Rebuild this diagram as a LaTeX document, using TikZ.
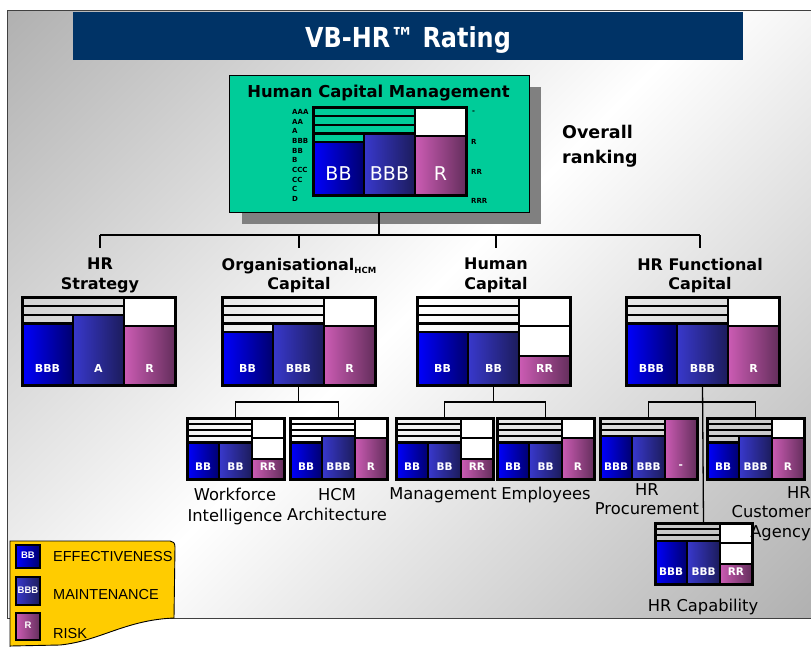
\documentclass[tikz,border=0pt]{standalone}
\usepackage{fontspec}
\setmainfont{DejaVu Sans}
\newfontfamily\headfont[FakeStretch=0.87]{DejaVu Sans}
\newfontfamily\legendfont{Liberation Sans}
\usetikzlibrary{calc}

\definecolor{panelgray}{HTML}{ADADAD}
\definecolor{titlenavy}{HTML}{003366}
\definecolor{hcmteal}{HTML}{00CC99}
\definecolor{shadowgray}{HTML}{808080}
\definecolor{legendyellow}{HTML}{FFCC00}
\definecolor{effL}{HTML}{0000FF}
\definecolor{effR}{HTML}{00006E}
\definecolor{mntL}{HTML}{3838CC}
\definecolor{mntR}{HTML}{1C1C5C}
\definecolor{rskL}{HTML}{CC5CB4}
\definecolor{rskR}{HTML}{642E5C}

\tikzset{
  cell/.style={draw=black, line width=2.2pt},
  stripe/.style={draw=black, line width=2.2pt},
  effbar/.style={cell, left color=effL, right color=effR},
  mntbar/.style={cell, left color=mntL, right color=mntR},
  rskbar/.style={cell, left color=rskL, right color=rskR},
  chartframe/.style={draw=black, line width=3pt, inner sep=0pt, outer sep=0pt},
  barlabel/.style={text=white, inner sep=0pt},
  link/.style={draw=black, line width=1.3pt},
  groupname/.style={font=\bfseries\fontsize{16}{19.5}\selectfont, align=center,
    anchor=north, inner sep=0pt, outer xsep=0pt, outer ysep=10pt},
  unitname/.style={font=\fontsize{16.3}{20.5}\selectfont, align=center,
    anchor=north, inner sep=0pt},
  scalemark/.style={font=\bfseries\fontsize{7}{7}\selectfont, anchor=west, inner sep=0pt},
  legendtext/.style={font=\legendfont\fontsize{14.5}{15}\selectfont, anchor=west, inner sep=0pt},
  legendbox/.style={draw=black, line width=1.2pt},
  legendmark/.style={text=white, inner sep=0pt, font=\legendfont\bfseries\fontsize{9.5}{10}\selectfont},
}

% Rating chart: name, x, y (top left), width, height,
% effectiveness level, maintenance level (1 = AAA ... 10 = D), risk level (0 = -, 1 = R, 2 = RR)
\newcommand\ratingchart[8]{%
  \pgfmathsetmacro\chX{#2}%
  \pgfmathsetmacro\chY{#3}%
  \pgfmathsetmacro\chW{#4}%
  \pgfmathsetmacro\chH{#5}%
  \pgfmathsetmacro\chA{\chX+\chW/3}%
  \pgfmathsetmacro\chB{\chX+2*\chW/3}%
  \pgfmathsetmacro\chR{\chX+\chW}%
  \pgfmathsetmacro\chBot{\chY+\chH}%
  \pgfmathtruncatemacro\chN{max(#6,#7)-2}%
  \foreach \k in {1,...,\chN}{\draw[stripe] (\chX,{\chY+\k*\chH/10}) -- (\chB,{\chY+\k*\chH/10});}%
  \ifnum#8>0
    \foreach \r in {1,...,#8}{\draw[cell,fill=white] (\chB,{\chY+(\r-1)*\chH/3}) rectangle (\chR,{\chY+\r*\chH/3});}%
  \fi
  \draw[effbar] (\chX,{\chY+(#6-1)*\chH/10}) rectangle (\chA,\chBot);
  \draw[mntbar] (\chA,{\chY+(#7-1)*\chH/10}) rectangle (\chB,\chBot);
  \draw[rskbar] (\chB,{\chY+#8*\chH/3}) rectangle (\chR,\chBot);
  \node[chartframe,minimum width=\chW pt,minimum height=\chH pt,anchor=north west] (#1) at (\chX,\chY) {};
}

% Ratings printed in the three columns of the last chart drawn
\newcommand\chartlabels[6]{%
  \node[barlabel,font=#6] (#1-e) at ({(\chX+\chA)/2},{\chBot-#5}) {#2};
  \node[barlabel,font=#6] (#1-m) at ({(\chA+\chB)/2},{\chBot-#5}) {#3};
  \node[barlabel,font=#6] (#1-r) at ({(\chB+\chR)/2},{\chBot-#5}) {#4};
}

\newcommand\bigmark{\fontsize{19}{19}\selectfont}
\newcommand\midmark{\bfseries\fontsize{11}{11}\selectfont}
\newcommand\smallmark{\bfseries\fontsize{10.5}{10.5}\selectfont}

\begin{document}
\begin{tikzpicture}[x=1pt,y=-1pt]
\useasboundingbox (0,0) rectangle (811,646);
\fill[white] (0,0) rectangle (811,646);

% background panel: diagonal grey - white - grey gradient
\begin{scope}
  \clip (7,10) rectangle (840,618);
  \shade[top color=panelgray, bottom color=panelgray, middle color=white,
    transform canvas={rotate around={45:(409,314)}}]
    (-111,-206) rectangle (929,834);
\end{scope}
\draw[draw=black!75, line width=1pt] (7,10) rectangle (840,618);

% title bar
\fill[titlenavy] (73,12) rectangle (743,60);
\node[text=white, font=\headfont\bfseries\fontsize{27.5}{30}\selectfont, anchor=base, inner sep=0pt]
  (title) at (408,47) {VB-HR™ Rating};

% overall box
\fill[shadowgray] (242,87) rectangle (541,224);
\node[draw=black, line width=1pt, fill=hcmteal, minimum width=300pt, minimum height=137pt,
  anchor=north west, inner sep=0pt, outer sep=0pt] (hcm) at (229,75) {};
\node[font=\bfseries\fontsize{16.4}{18}\selectfont, anchor=base, inner sep=0pt]
  (hcm-t) at (378.5,97) {Human Capital Management};

\ratingchart{mc}{313}{107}{153}{88}{5}{4}{1}
\chartlabels{mc}{BB}{BBB}{R}{21}{\bigmark}

\foreach \s [count=\i from 0] in {AAA,AA,A,BBB,BB,B,CCC,CC,C,D}
  \node[scalemark] (sc-\i) at (292,{112+\i*9.67}) {\s};
\node[scalemark] (rk-0) at (472,112) {-};
\node[scalemark] (rk-1) at (471,142) {R};
\node[scalemark] (rk-2) at (471,172) {RR};
\node[scalemark] (rk-3) at (471,201) {RRR};

\node[font=\bfseries\fontsize{17.5}{25}\selectfont, align=left, anchor=north west, inner sep=0pt]
  (overall) at (562,125) {Overall\\ranking};

% second level
\node[groupname] (hs-t) at (100,248) {HR\\Strategy};
\node[groupname] (oc-t) at (299,248) {Organisational\raisebox{-3pt}{\fontsize{8.5}{9}\selectfont HCM}\\Capital};
\node[groupname] (hc-t) at (496,248) {Human\\Capital};
\node[groupname] (hf-t) at (700,248) {HR Functional\\Capital};

\coordinate (bus2) at (0,235);
\draw[link] (hs-t.north |- bus2) -- (hf-t.north |- bus2);
\draw[link] (hcm.south) -- (hcm.south |- bus2);
\foreach \g in {hs,oc,hc,hf}
  \draw[link] (\g-t.north |- bus2) -- (\g-t.north);

\ratingchart{hs}{22}{297}{153}{88}{4}{3}{1}
\chartlabels{hs}{BBB}{A}{R}{17}{\midmark}
\ratingchart{oc}{222}{297}{153}{88}{5}{4}{1}
\chartlabels{oc}{BB}{BBB}{R}{17}{\midmark}
\ratingchart{hc}{417}{297}{153}{88}{5}{5}{2}
\chartlabels{hc}{BB}{BB}{RR}{17}{\midmark}
\ratingchart{hf}{626}{297}{153}{88}{4}{4}{1}
\chartlabels{hf}{BBB}{BBB}{R}{17}{\midmark}

% third level
\ratingchart{wi}{187}{418}{97}{61}{5}{5}{2}
\chartlabels{wi}{BB}{BB}{RR}{12}{\smallmark}
\ratingchart{ha}{290}{418}{97}{61}{5}{4}{1}
\chartlabels{ha}{BB}{BBB}{R}{12}{\smallmark}
\ratingchart{mg}{396}{418}{97}{61}{5}{5}{2}
\chartlabels{mg}{BB}{BB}{RR}{12}{\smallmark}
\ratingchart{em}{497}{418}{97}{61}{5}{5}{1}
\chartlabels{em}{BB}{BB}{R}{12}{\smallmark}
\ratingchart{pr}{600}{418}{97}{61}{4}{4}{0}
\chartlabels{pr}{BBB}{BBB}{-}{12}{\smallmark}
\ratingchart{ag}{707}{418}{97}{61}{5}{4}{1}
\chartlabels{ag}{BB}{BBB}{R}{12}{\smallmark}
\ratingchart{cap}{655}{523}{97}{61}{4}{4}{2}
\chartlabels{cap}{BBB}{BBB}{RR}{12}{\smallmark}

\coordinate (bus3) at (0,402);
\draw[link] (oc.south) -- (oc.south |- bus3);
\draw[link] (wi.north) -- (wi.north |- bus3) -- (ha.north |- bus3) -- (ha.north);
\draw[link] (hc.south) -- (hc.south |- bus3);
\draw[link] (mg.north) -- (mg.north |- bus3) -- (em.north |- bus3) -- (em.north);
\draw[link] (hf.south) -- (cap.north);
\draw[link] (pr.north) -- (pr.north |- bus3) -- (ag.north |- bus3) -- (ag.north);

\node[unitname] (wi-t) at (235,488) {Workforce\\Intelligence};
\node[unitname] (ha-t) at (337,488) {HCM\\Architecture};
\node[unitname] (mg-t) at (443,487) {Management};
\node[unitname] (em-t) at (546,487) {Employees};
\node[unitname, font=\fontsize{16.3}{19.5}\selectfont] (pr-t) at (647,483) {HR\\Procurement};
\node[unitname, align=right, anchor=north east, font=\fontsize{16.3}{19.8}\selectfont]
  (ag-t) at (811,486) {HR\\Customer\\Agency};
\node[unitname] (cap-t) at (703,599) {HR Capability};

% legend
\filldraw[fill=legendyellow, draw=black, line width=0.9pt]
  (10,647) -- (10,541) -- (170,541) .. controls (173,541) and (175,543) .. (175,547)
  -- (174,618) .. controls (125,620) and (100,641) .. (60,645) -- (10,646);
\draw[legendbox, left color=effL, right color=effR] (16,545) rectangle (40,568);
\draw[legendbox, left color=mntL, right color=mntR] (16,577) rectangle (40,605);
\draw[legendbox, left color=rskL, right color=rskR] (16,613) rectangle (40,640);
\node[legendmark] (lg-e) at (28,555) {BB};
\node[legendmark] (lg-m) at (28,590) {BBB};
\node[legendmark] (lg-r) at (28,625) {R};
\node[legendtext] (lt-e) at (53,556) {EFFECTIVENESS};
\node[legendtext] (lt-m) at (53,594) {MAINTENANCE};
\node[legendtext] (lt-r) at (53,633) {RISK};
\end{tikzpicture}
\end{document}
